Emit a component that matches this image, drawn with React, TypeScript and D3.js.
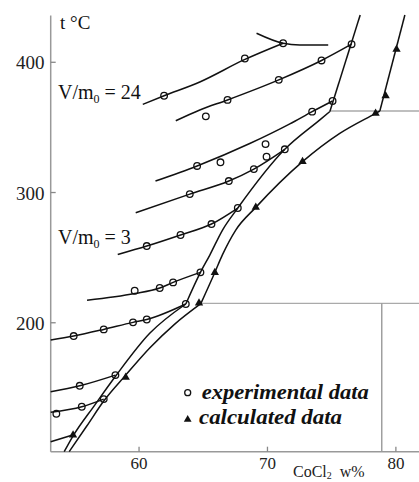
import React from "react";
import * as d3 from "d3";

type P = [number, number];

// axis ticks
const xTicks = [60, 70, 80];
const yTicks = [200, 300, 400];

// isotherm-like curves (CoCl2 w%, t °C)
const curve1: P[] = [[60.29, 367.7], [61.95, 374.3], [64.73, 384.9], [68.16, 401.8], [71.22, 414.6]];
const curve2: P[] = [[62.86, 355.1], [64.73, 363.4], [66.89, 371.1], [70.88, 386.5], [74.21, 401.4], [76.55, 413.9]];
const curve3: P[] = [[61.28, 308.8], [64.52, 320.4], [68.62, 337.6], [71.74, 352.7], [73.48, 362.1], [75.07, 370.3]];
const curve4: P[] = [[59.74, 284.5], [63.95, 298.8], [66.99, 308.8], [68.94, 318.0], [71.35, 333.2]];
const curve5: P[] = [[58.34, 252.4], [60.6, 258.9], [63.23, 267.4], [65.64, 275.8], [67.69, 288.1]];
const curve6: P[] = [[55.95, 217.2], [59.66, 222.4], [61.61, 226.7], [62.65, 231.0], [64.78, 238.7]];
const curve7: P[] = [[53.12, 186.7], [54.91, 189.8], [57.25, 194.9], [59.53, 200.3], [60.6, 202.5], [63.64, 214.4]];
const curve8: P[] = [[53.12, 147.0], [55.38, 151.6], [58.16, 159.8]];
const curve9: P[] = [[53.12, 131.2], [55.54, 135.5], [57.25, 141.4]];
const curve10: P[] = [[53.12, 108.6], [54.83, 113.8]];
const topBoundary: P[] = [[69.15, 422.3], [71.22, 414.6], [72.52, 413.3], [74.73, 413.2]];

// experimental solubility curve (A)
const expLow: P[] = [[54.17, 101], [54.83, 112.6], [56.55, 136.8], [58.18, 159.1], [60.83, 191.9], [63.64, 214.4]];
const expMid: P[] = [[63.64, 214.4], [64.78, 238.7], [65.51, 252.0], [66.5, 271.2], [67.69, 288.1], [71.35, 333.2], [74.08, 355.8], [74.86, 362.2]];
const expHigh: P[] = [[74.86, 362.2], [77.22, 436.3]];

// calculated curve (B)
const calcLow: P[] = [[54.56, 101], [55.93, 120.7], [57.25, 139.9], [58.96, 159.8], [60.83, 180.6], [62.78, 199.0], [64.81, 214.7]];
const calcMid: P[] = [[64.81, 214.7], [65.9, 238.6], [66.49, 252.1], [67.53, 271.2], [69.09, 288.6], [72.73, 323.7], [75.63, 345.4], [78.42, 360.8], [78.75, 362.6]];
const calcHigh: P[] = [[78.75, 362.6], [80.7, 436.3]];

// experimental points (circles)
const expPoints: P[] = [
  [61.95, 374.3], [68.24, 402.9], [71.22, 414.6],
  [65.2, 358.5], [66.89, 371.1], [70.88, 386.5], [74.21, 401.4], [76.55, 413.9],
  [64.52, 320.4], [66.34, 323.2], [69.85, 337.2], [73.48, 362.1], [75.07, 370.3],
  [63.95, 298.8], [66.99, 308.8], [68.94, 318.0], [69.93, 327.5], [71.35, 333.2],
  [60.6, 258.9], [63.23, 267.4], [65.64, 275.8], [67.69, 288.1],
  [59.66, 224.6], [61.61, 226.7], [62.65, 231.0], [64.78, 238.7],
  [54.91, 189.8], [57.25, 194.9], [59.53, 200.3], [60.6, 202.5], [63.64, 214.4],
  [55.38, 151.6], [58.16, 159.8],
  [53.56, 130.1], [55.54, 135.5], [57.25, 141.4],
];

// calculated points (triangles)
const calcPoints: P[] = [
  [54.86, 113.8], [58.96, 158.1], [64.67, 215.1], [65.9, 238.6], [69.09, 288.6],
  [72.73, 323.7], [78.42, 360.8], [79.2, 374.3], [80.05, 410.0],
];

// reference lines
const eutecticT = 214.9;
const eutecticX0 = 64.7;
const upperT = 362.6;
const upperX0 = 74.84;
const vertX = 78.9;

const SERIF = "'Liberation Serif', 'Times New Roman', serif";

export default function App() {
  const x = d3.scaleLinear().domain([53.12, 81.8]).range([50.7, 419]);
  const y = d3.scaleLinear().domain([101, 436]).range([451.7, 15.4]);
  const smooth = d3.line<P>().x((d) => x(d[0])).y((d) => y(d[1])).curve(d3.curveMonotoneX);
  const straight = d3.line<P>().x((d) => x(d[0])).y((d) => y(d[1]));
  const tri = d3.symbol(d3.symbolTriangle, 30)() as string;

  const [x0, x1] = x.range();
  const [yb, yt] = y.range();

  const smoothCurves = [curve1, curve2, curve3, curve4, curve5, curve6, curve7, curve8, curve9, curve10, topBoundary, expLow, expMid, calcLow, calcMid];
  const straightCurves = [expHigh, calcHigh];

  return (
    <svg width={419} height={482} style={{ position: "absolute", left: 0, top: 0, background: "#fff" }}>
      {/* reference lines */}
      <line x1={x(eutecticX0)} x2={x1} y1={y(eutecticT)} y2={y(eutecticT)} stroke="#aaa" strokeWidth={1.3} />
      <line x1={x(upperX0)} x2={x1} y1={y(upperT)} y2={y(upperT)} stroke="#aaa" strokeWidth={1.3} />
      <line x1={x(vertX)} x2={x(vertX)} y1={y(eutecticT)} y2={yb} stroke="#999" strokeWidth={1.4} />

      {/* axes */}
      <line x1={x0} x2={x0} y1={yt} y2={yb} stroke="#999" strokeWidth={1.5} />
      <line x1={x0} x2={x1} y1={yb} y2={yb} stroke="#999" strokeWidth={1.5} />
      {yTicks.map((t) => (
        <g key={"y" + t}>
          <line x1={x0} x2={x0 + 5} y1={y(t)} y2={y(t)} stroke="#888" strokeWidth={1.3} />
          <text x={44.5} y={y(t) + 7} textAnchor="end" fontFamily={SERIF} fontSize={19} fill="#222">{t}</text>
        </g>
      ))}
      {xTicks.map((v) => (
        <g key={"x" + v}>
          <line x1={x(v)} x2={x(v)} y1={yb} y2={yb - 5} stroke="#888" strokeWidth={1.3} />
          <text x={x(v)} y={469} textAnchor="middle" fontFamily={SERIF} fontSize={17} fill="#222">{v}</text>
        </g>
      ))}

      {/* curves */}
      {smoothCurves.map((c, i) => (
        <path key={"s" + i} d={smooth(c) as string} fill="none" stroke="#111" strokeWidth={1.5} />
      ))}
      {straightCurves.map((c, i) => (
        <path key={"l" + i} d={straight(c) as string} fill="none" stroke="#111" strokeWidth={1.5} />
      ))}

      {/* markers */}
      {expPoints.map((p, i) => (
        <circle key={"c" + i} cx={x(p[0])} cy={y(p[1])} r={3.3} fill="none" stroke="#111" strokeWidth={1.3} />
      ))}
      {calcPoints.map((p, i) => (
        <path key={"t" + i} d={tri} transform={`translate(${x(p[0])},${y(p[1])})`} fill="#111" />
      ))}

      {/* labels */}
      <text x={60} y={29} fontFamily={SERIF} fontSize={19} fill="#111">t °C</text>
      <text x={58} y={99} fontFamily={SERIF} fontSize={20} fill="#111">
        V/m<tspan fontSize={12} dy={4}>0</tspan><tspan dy={-4}> = 24</tspan>
      </text>
      <text x={58} y={244} fontFamily={SERIF} fontSize={20} fill="#111">
        V/m<tspan fontSize={12} dy={4}>0</tspan><tspan dy={-4}> = 3</tspan>
      </text>
      <text x={293} y={477} fontFamily={SERIF} fontSize={16} fill="#222">
        CoCl<tspan fontSize={10} dy={2}>2</tspan><tspan dy={-2}>{"\u00a0\u00a0w%"}</tspan>
      </text>

      {/* legend */}
      <circle cx={187.7} cy={392.7} r={3} fill="none" stroke="#111" strokeWidth={1.3} />
      <text x={201.7} y={398.5} fontFamily={SERIF} fontSize={20} fontWeight="bold" fontStyle="italic" fill="#111" textLength={167} lengthAdjust="spacingAndGlyphs">experimental data</text>
      <path d={d3.symbol(d3.symbolTriangle, 26)() as string} transform="translate(187.7,419.5)" fill="#111" />
      <text x={199} y={424} fontFamily={SERIF} fontSize={20} fontWeight="bold" fontStyle="italic" fill="#111" textLength={143} lengthAdjust="spacingAndGlyphs">calculated data</text>
    </svg>
  );
}
